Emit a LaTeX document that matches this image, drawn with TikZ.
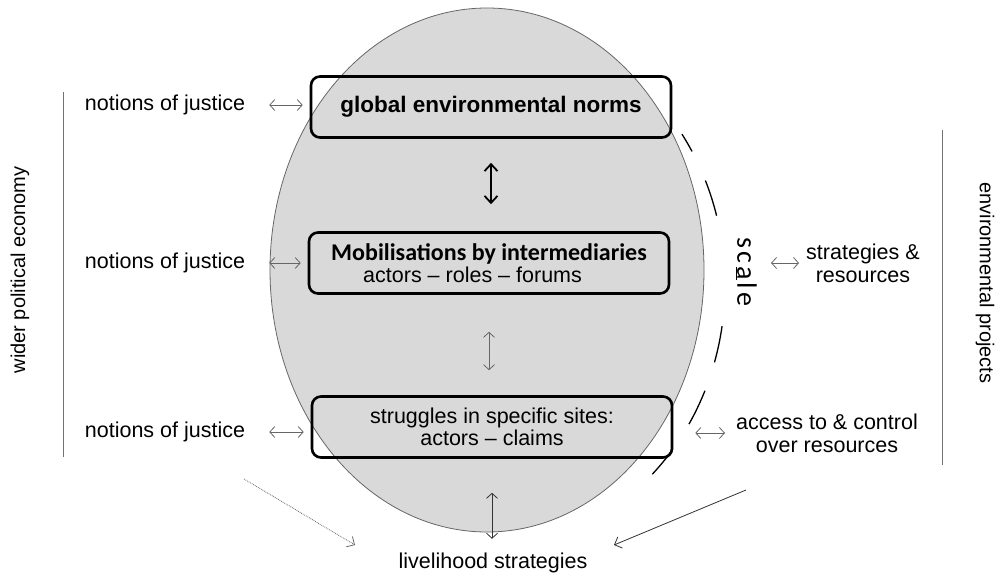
\documentclass[tikz,border=0pt]{standalone}
\usepackage{fontspec}
\setmainfont{Liberation Sans}
\newfontfamily\calib{Carlito}
\usetikzlibrary{arrows.meta,positioning,calc}
\tikzset{
  lbl/.style={font=\fontsize{21.5}{23}\selectfont, inner sep=0pt, align=center},
  sidelbl/.style={font=\fontsize{20}{23}\selectfont, inner sep=0pt},
  frame/.style={draw=black, line width=2.6pt, rounded corners=9pt, minimum width=360pt, minimum height=61pt, inner sep=0pt, align=center},
  dbl/.style={{Straight Barb[length=5pt,width=11pt]}-{Straight Barb[length=5pt,width=11pt]}, draw=black!60, line width=0.8pt},
  bigdbl/.style={{Straight Barb[length=7pt,width=13pt]}-{Straight Barb[length=7pt,width=13pt]}, draw=black, line width=1.8pt},
  onearrow/.style={-{Straight Barb[length=6pt,width=12pt]}, line width=0.8pt},
  rule/.style={draw=black!55, line width=1pt},
}
\begin{document}
\begin{tikzpicture}[x=1pt,y=-1pt]
  \useasboundingbox (0,0) rectangle (998,578);
  \fill[black!15, draw=black!60, line width=0.8pt] (487,270) ellipse [x radius=217, y radius=262];

  % boxes in the oval
  \node[frame, font=\fontsize{22.5}{23}\selectfont\bfseries] (glob) at (491,107) {global environmental norms};
  \node[frame, align=left] (mob) at (489,263) {{\calib\fontsize{24}{25}\selectfont\bfseries Mobilisations by intermediaries}\\[1pt]
    \hspace*{32pt}{\fontsize{21.5}{23}\selectfont actors -- roles -- forums}};
  \node[frame, font=\fontsize{21.5}{22}\selectfont] (site) at (492,427) {struggles in specific sites:\\actors -- claims};

  % left side
  \node[lbl] (just1) at (165,105) {notions of justice};
  \node[lbl] (just2) at (165,263) {notions of justice};
  \node[lbl] (just3) at (165,432) {notions of justice};
  \node[sidelbl, rotate=90] (wpe) at (20,270) {wider political economy};
  \draw[rule] (63,92) -- (63,457);

  % right side
  \node[font=\calib\fontsize{28}{30}\selectfont, inner sep=0pt, rotate=-90] (scl) at (746,272) {s\kern3pt c\kern3pt\underline{a}\kern3pt l\kern3pt e};
  \node[lbl] (strat) at (863,263) {strategies \&\\resources};
  \node[lbl] (acc) at (827,433) {access to \& control\\over resources};
  \node[sidelbl, rotate=-90] (envp) at (985,283) {environmental projects};
  \draw[rule] (942,130) -- (942,465);

  % scale arc
  \draw[line width=1.3pt, dash pattern=on 37pt off 32pt, dash phase=17pt]
    (487,285) ++(-35:238 and 263) arc[start angle=-35, end angle=-15, x radius=238, y radius=263];
  \draw[line width=1.3pt, dash pattern=on 37pt off 30pt]
    (487,285) ++(9:238 and 263) arc[start angle=9, end angle=46, x radius=238, y radius=263];

  % bottom
  \node[lbl] (live) at (493,563) {livelihood strategies};
  \coordinate (dl) at (244,479);
  \coordinate (dle) at (355,545);
  \coordinate (dr) at (746,490);
  \coordinate (dre) at (614,545);

  % connectors
  \draw[dbl, shorten <=24pt, shorten >=7pt] (just1.east) -- (just1.east -| glob.west);
  \draw[dbl, shorten <=24pt, shorten >=7pt] (just2.east) -- (just2.east -| mob.west);
  \draw[dbl, shorten <=24pt, shorten >=7pt] (just3.east) -- (just3.east -| site.west);
  \draw[bigdbl, shorten <=24pt, shorten >=27pt] (glob.south) -- (glob.south |- mob.north);
  \draw[dbl, shorten <=37pt, shorten >=25pt] (mob.south) -- (mob.south |- site.north);
  \draw[dbl, draw=black!80, shorten <=34pt, shorten >=14pt] (site.south) -- (site.south |- live.north);
  \draw[dbl, shorten <=7pt, shorten >=25pt] (strat.west) -- (strat.west -| scl);
  \draw[dbl, shorten <=11pt, shorten >=22pt] (acc.west) -- (acc.west -| site.east);
  \draw[onearrow, draw=black!60, densely dotted] (dl) -- (dle);
  \draw[onearrow, draw=black!80] (dr) -- (dre);
\end{tikzpicture}
\end{document}
